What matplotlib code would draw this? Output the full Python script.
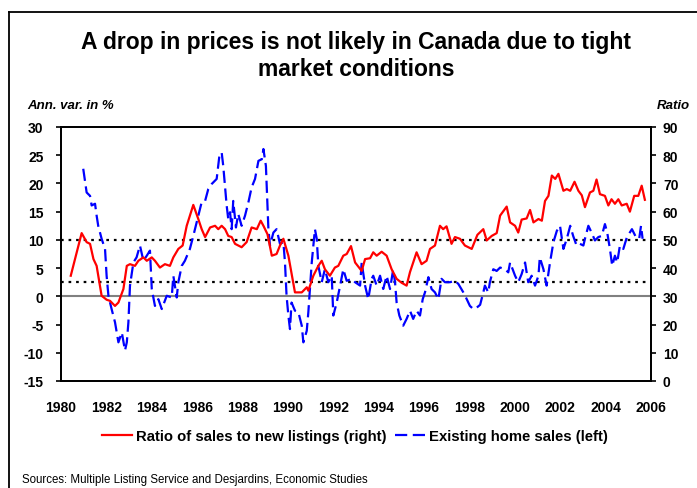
import matplotlib
matplotlib.use('Agg')
import matplotlib.pyplot as plt
from matplotlib.lines import Line2D

plt.rcParams['font.family'] = ['Liberation Sans', 'DejaVu Sans']
plt.rcParams['axes.unicode_minus'] = False

# Ratio of sales to new listings (right axis)
ratio_years = [1980.43, 1980.91, 1981.13, 1981.28, 1981.43, 1981.57, 1981.79, 1982.01, 1982.16, 1982.38,
               1982.53, 1982.75, 1982.90, 1983.04, 1983.26, 1983.41, 1983.63, 1983.78, 1984.00, 1984.14,
               1984.36, 1984.58, 1984.80, 1984.95, 1985.17, 1985.36, 1985.54, 1985.83, 1986.05, 1986.20,
               1986.35, 1986.57, 1986.79, 1986.93, 1987.08, 1987.23, 1987.37, 1987.52, 1987.67, 1987.81,
               1987.96, 1988.18, 1988.40, 1988.63, 1988.80, 1988.92, 1989.10, 1989.29, 1989.50, 1989.65,
               1989.80, 1990.02, 1990.31, 1990.61, 1990.83, 1990.90, 1991.12, 1991.34, 1991.49, 1991.63,
               1991.85, 1992.07, 1992.22, 1992.44, 1992.59, 1992.78, 1992.96, 1993.25, 1993.40, 1993.62,
               1993.76, 1993.91, 1994.13, 1994.35, 1994.57, 1994.79, 1995.01, 1995.23, 1995.38, 1995.67,
               1995.89, 1996.11, 1996.26, 1996.48, 1996.70, 1996.84, 1996.99, 1997.21, 1997.36, 1997.58,
               1997.80, 1998.10, 1998.35, 1998.61, 1998.76, 1998.98, 1999.20, 1999.35, 1999.64, 1999.79,
               2000.01, 2000.15, 2000.30, 2000.52, 2000.67, 2000.82, 2001.04, 2001.19, 2001.33, 2001.48,
               2001.63, 2001.78, 2001.92, 2002.14, 2002.29, 2002.44, 2002.63, 2002.80, 2002.95, 2003.09,
               2003.31, 2003.46, 2003.60, 2003.75, 2003.97, 2004.12, 2004.26, 2004.41, 2004.56, 2004.71,
               2004.93, 2005.07, 2005.26, 2005.44, 2005.59, 2005.73]
ratio_vals = [37.3, 52.4, 49.2, 48.6, 43.2, 40.8, 30.2, 28.8, 28.4, 26.6,
              27.8, 32.6, 40.8, 41.4, 40.8, 42.6, 43.8, 42.6, 43.8, 42.6,
              40.2, 41.4, 40.8, 43.8, 46.8, 48.0, 55.0, 62.4, 57.4, 53.8,
              51.0, 54.4, 55.0, 53.8, 55.0, 53.8, 51.4, 51.0, 48.6, 48.0,
              47.4, 49.2, 54.4, 53.8, 56.8, 55.0, 52.0, 44.4, 45.0, 48.0,
              50.4, 44.4, 31.4, 31.4, 33.2, 32.0, 37.3, 40.8, 42.6, 39.6,
              37.3, 40.2, 40.8, 44.4, 45.0, 47.8, 42.0, 39.0, 43.2, 43.5,
              45.6, 44.4, 45.8, 44.4, 39.6, 36.2, 34.8, 33.8, 38.6, 45.6,
              41.4, 42.6, 46.8, 48.0, 55.0, 53.8, 54.8, 48.6, 51.0, 50.4,
              48.0, 46.8, 51.8, 53.8, 49.8, 51.4, 52.4, 58.6, 61.8, 56.2,
              55.0, 52.6, 57.2, 57.6, 60.6, 56.2, 57.4, 56.8, 63.8, 65.6,
              72.8, 71.6, 73.4, 67.4, 68.0, 67.4, 70.6, 67.4, 65.8, 61.6,
              66.8, 67.4, 71.4, 66.2, 65.6, 62.2, 64.4, 62.8, 64.4, 62.2,
              62.8, 60.0, 65.6, 65.6, 69.2, 64.2]

# Existing home sales, annual variation in % (left axis)
sales_years = [1980.98, 1981.13, 1981.28, 1981.35, 1981.50, 1981.57, 1981.64, 1981.79, 1981.94, 1982.01,
               1982.09, 1982.23, 1982.38, 1982.53, 1982.68, 1982.82, 1982.90, 1982.97, 1983.04, 1983.19,
               1983.33, 1983.48, 1983.63, 1983.78, 1983.92, 1984.00, 1984.14, 1984.29, 1984.44, 1984.66,
               1984.88, 1984.95, 1985.10, 1985.17, 1985.32, 1985.46, 1985.68, 1985.83, 1986.05, 1986.20,
               1986.35, 1986.49, 1986.64, 1986.86, 1986.98, 1987.08, 1987.15, 1987.30, 1987.37, 1987.45,
               1987.52, 1987.59, 1987.71, 1987.81, 1987.96, 1988.11, 1988.26, 1988.40, 1988.55, 1988.70,
               1988.85, 1988.92, 1989.03, 1989.14, 1989.21, 1989.36, 1989.50, 1989.65, 1989.80, 1989.87,
               1989.94, 1990.02, 1990.09, 1990.16, 1990.31, 1990.46, 1990.61, 1990.68, 1990.83, 1990.90,
               1991.05, 1991.19, 1991.27, 1991.34, 1991.49, 1991.63, 1991.78, 1991.93, 1992.00, 1992.15,
               1992.30, 1992.44, 1992.59, 1992.81, 1992.96, 1993.18, 1993.25, 1993.40, 1993.54, 1993.69,
               1993.76, 1993.91, 1994.06, 1994.20, 1994.35, 1994.50, 1994.64, 1994.72, 1994.79, 1994.91,
               1995.08, 1995.23, 1995.38, 1995.52, 1995.67, 1995.82, 1995.94, 1996.04, 1996.19, 1996.33,
               1996.48, 1996.63, 1996.77, 1996.92, 1997.14, 1997.36, 1997.51, 1997.73, 1997.88, 1998.02,
               1998.17, 1998.32, 1998.47, 1998.61, 1998.68, 1998.83, 1998.90, 1999.05, 1999.20, 1999.35,
               1999.57, 1999.71, 1999.79, 2000.01, 2000.15, 2000.30, 2000.45, 2000.59, 2000.74, 2000.89,
               2001.04, 2001.10, 2001.26, 2001.40, 2001.55, 2001.70, 2001.85, 2001.99, 2002.14, 2002.29,
               2002.44, 2002.57, 2002.72, 2002.87, 2003.02, 2003.09, 2003.24, 2003.38, 2003.53, 2003.68,
               2003.83, 2003.97, 2004.07, 2004.19, 2004.29, 2004.41, 2004.51, 2004.63, 2004.78, 2004.94,
               2005.16, 2005.31, 2005.48, 2005.56, 2005.63]
sales_vals = [22.6, 18.4, 17.8, 16.1, 16.4, 14.3, 12.5, 10.2, 8.4, 3.65,
              0.1, -2.25, -4.6, -8.15, -6.4, -9.6, -8.15, -4.6, 1.9, 6.0,
              6.9, 9.0, 6.3, 7.2, 8.1, 1.3, -1.7, -0.5, -2.25, 0.1,
              -0.2, 3.65, -0.2, 2.5, 5.4, 6.3, 8.4, 10.7, 14.3, 16.7,
              16.9, 19.0, 19.9, 20.8, 24.9, 25.5, 23.1, 16.1, 13.7, 14.9,
              11.9, 16.9, 12.2, 14.6, 12.5, 14.3, 16.7, 19.3, 20.8, 24.0,
              24.3, 26.1, 23.1, 11.9, 9.0, 11.3, 11.9, 9.3, 9.6, 6.0,
              0.1, -3.4, -5.8, -1.1, -2.55, -2.8, -5.2, -8.15, -6.1, -2.8,
              6.0, 11.9, 10.2, 5.4, 2.5, 4.8, 2.5, 3.65, -3.4, -1.1,
              1.9, 4.8, 2.75, 3.1, 2.5, 1.9, 6.0, 1.9, -0.5, 3.1,
              3.65, 1.9, 3.65, 1.3, 3.65, 1.3, 4.8, 2.5, -1.1, -3.4,
              -5.2, -4.0, -2.55, -4.0, -2.55, -3.4, -0.5, 0.7, 3.4, 1.3,
              0.7, -0.5, 3.1, 2.5, 2.5, 2.75, 2.2, 0.7, -0.5, -1.7,
              -2.25, -2.0, -1.5, 0.7, 1.9, 0.7, 2.5, 4.8, 4.5, 5.1,
              4.8, 4.25, 6.0, 3.65, 2.5, 3.95, 6.0, 2.5, 3.65, 1.9,
              3.65, 6.9, 4.8, 1.9, 6.0, 9.6, 11.6, 12.5, 8.4, 10.2,
              12.5, 10.7, 9.0, 9.3, 9.0, 10.2, 12.5, 11.3, 9.9, 10.5,
              10.7, 12.8, 11.3, 8.4, 5.4, 7.2, 6.0, 9.0, 8.4, 10.5,
              11.9, 10.7, 10.2, 12.5, 10.2]

x_ticks = list(range(1980, 2007, 2))
left_ticks = list(range(-15, 31, 5))
right_ticks = list(range(0, 91, 10))
ref_levels = [10, 2.5]

fig = plt.figure(figsize=(6.97, 4.89), dpi=100)
ax = fig.add_axes([61 / 697, 1 - 382 / 489, 590 / 697, 254 / 489])
ax2 = ax.twinx()

ax.axhline(0, color='#808080', lw=1.5, zorder=1)
for lev in ref_levels:
    ax.axhline(lev, color='black', lw=1.6, linestyle=(0, (1.2, 2.2)), zorder=1)

ax.plot(sales_years, sales_vals, color='#0000ff', lw=1.6, linestyle=(0, (5.5, 2.5)), zorder=3)
ax2.plot(ratio_years, ratio_vals, color='#ff0000', lw=1.6, zorder=2)

ax.set_xlim(1980, 2006)
ax.set_ylim(-15, 30)
ax2.set_ylim(0, 90)
ax.set_xticks(x_ticks)
ax.set_yticks(left_ticks)
ax2.set_yticks(right_ticks)

for a in (ax, ax2):
    for s in a.spines.values():
        s.set_linewidth(1.3)
ax.tick_params(axis='x', length=0, pad=14, labelsize=10)
ax.tick_params(axis='y', length=3.6, width=1.2, pad=9, labelsize=10)
ax2.tick_params(axis='y', length=3.6, width=1.2, pad=5, labelsize=10)
for lab in ax.get_xticklabels() + ax.get_yticklabels() + ax2.get_yticklabels():
    lab.set_fontweight('bold')

fig.text(356 / 697, 1 - 56 / 489,
         'A drop in prices is not likely in Canada due to tight\nmarket conditions',
         ha='center', va='center', fontsize=16.5, fontweight='bold', linespacing=1.2)
fig.text(27 / 697, 1 - 106 / 489, 'Ann. var. in %', ha='left', va='center',
         fontsize=9.5, fontweight='bold', fontstyle='italic')
fig.text(690 / 697, 1 - 106 / 489, 'Ratio', ha='right', va='center',
         fontsize=9.5, fontweight='bold', fontstyle='italic')

handles = [Line2D([], [], color='#ff0000', lw=1.6),
           Line2D([], [], color='#0000ff', lw=1.6, linestyle=(0, (5.5, 2.5)))]
fig.legend(handles, ['Ratio of sales to new listings (right)', 'Existing home sales (left)'],
           loc='center', bbox_to_anchor=(355 / 697, 1 - 437 / 489), ncol=2, frameon=False,
           prop={'weight': 'bold', 'size': 10.7}, handlelength=2.0, handletextpad=0.25,
           columnspacing=0.6)

fig.text(22 / 697, 1 - 480 / 489, 'Sources: Multiple Listing Service and Desjardins, Economic Studies',
         ha='left', va='center', fontsize=8.3)

# outer frame (left and top edges)
fx, fy = 9 / 697, 1 - 13 / 489
fig.add_artist(Line2D([fx, fx], [0, fy], color='black', lw=1.3, transform=fig.transFigure))
fig.add_artist(Line2D([fx, 1], [fy, fy], color='black', lw=1.3, transform=fig.transFigure))

fig.savefig('out.png', dpi=100)
